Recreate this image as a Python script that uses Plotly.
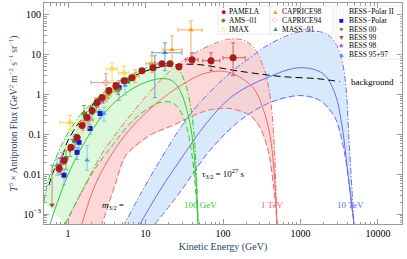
import plotly.graph_objects as go

# ---------------- data ----------------
# signal curves: T^3 x flux, m_3/2 = 100 GeV (green), 1 TeV (red), 10 TeV (blue)
g_up_E = [0.49, 0.536, 0.680, 0.915, 1.428, 2.587, 4.69, 8.49, 13.3, 19.5, 26.3, 33.3, 39.8, 44.9, 47.6]
g_up_F = [2.0e-3, 5.31e-3, 0.0224, 0.0794, 0.299, 0.944, 2.239, 3.981, 5.623, 5.957, 4.467, 1.679, 0.299, 0.0168, 5.62e-4]
g_mid_E = [0.586, 0.788, 1.061, 1.428, 1.922, 3.00, 4.69, 8.49, 15.4, 22.0, 27.9, 34.3, 39.8, 44.9, 47.6]
g_mid_F = [5.62e-4, 2.99e-3, 0.0126, 0.0398, 0.106, 0.355, 0.841, 1.778, 2.512, 2.239, 1.259, 0.398, 0.0944, 7.08e-3, 5.62e-4]
g_lo_E = [0.915, 1.428, 2.165, 3.92, 6.31, 9.86, 15.4, 22.0, 27.9, 34.3, 39.8, 44.9, 47.6]
g_lo_F = [5.62e-4, 2.99e-3, 0.0126, 0.0596, 0.188, 0.398, 0.631, 0.631, 0.398, 0.141, 0.0299, 2.99e-3, 5.62e-4]

r_up_E = [0.888, 1.428, 2.665, 4.69, 8.49, 15.4, 27.9, 62.2, 135, 223, 328, 404, 455, 483, 498]
r_up_F = [4.73e-4, 2.99e-3, 0.0299, 0.141, 0.596, 2.239, 6.310, 15.85, 25.1, 18.84, 5.309, 0.944, 0.0708, 3.98e-3, 5.62e-4]
r_mid_E = [1.471, 2.23, 3.59, 5.44, 8.49, 22.6, 62.2, 123, 244, 328, 404, 455, 498]
r_mid_F = [4.73e-4, 5.31e-3, 0.0299, 0.0944, 0.251, 1.259, 3.548, 3.548, 1.496, 0.447, 0.0944, 0.0126, 5.62e-4]
r_lo_E = [2.665, 4.04, 5.60, 11.4, 22.6, 62.2, 123, 223, 300, 381, 455, 498]
r_lo_F = [4.73e-4, 5.31e-3, 0.0299, 0.0944, 0.168, 0.398, 0.447, 0.299, 0.150, 0.0398, 3.98e-3, 5.62e-4]

b_up_E = [5.12, 8.49, 15.4, 27.9, 50.5, 113, 223, 404, 986, 2009, 2706, 3428, 3864, 4224, 4623, 4900]
b_up_F = [4.73e-4, 2.99e-3, 0.0224, 0.141, 0.631, 2.985, 8.414, 18.84, 37.6, 35.48, 22.39, 7.079, 1.496, 0.0708, 3.98e-3, 5.62e-4]
b_mid_E = [8.49, 15.4, 27.9, 62.2, 135, 370, 986, 1950, 2786, 3428, 3981, 4487, 4900]
b_mid_F = [5.62e-4, 3.98e-3, 0.0224, 0.200, 0.944, 2.661, 4.732, 3.350, 1.059, 0.168, 0.0168, 2.24e-3, 5.62e-4]
b_lo_E = [13.3, 27.9, 67.9, 166, 404, 986, 1786, 2786, 3640, 4355, 4900]
b_lo_F = [5.62e-4, 3.55e-3, 0.0398, 0.224, 0.631, 0.944, 0.708, 0.266, 0.0398, 3.98e-3, 5.62e-4]

bg_E = [0.569, 0.680, 0.765, 1.0, 1.516, 2.368, 4.16, 6.70, 12.5, 24.0, 50.5, 123, 223, 594, 1633, 3236]
bg_F = [5.31e-3, 0.0141, 0.0168, 0.0708, 0.251, 0.750, 1.778, 2.818, 4.467, 5.623, 5.623, 4.217, 3.548, 2.818, 2.512, 2.113]

# experimental data: energy, value, error up, error down
pam_E = [0.77, 0.89, 1.09, 1.31, 1.52, 1.76, 2.04, 2.37, 2.75, 3.38, 4.16, 5.28, 6.7, 9.0, 12.5, 16.3, 20.7, 27, 39.8, 70, 135]
pam_F = [0.014, 0.022, 0.047, 0.084, 0.168, 0.266, 0.40, 0.63, 0.84, 1.26, 1.68, 2.24, 2.66, 3.98, 4.73, 5.96, 5.96, 5.0, 7.5, 7.1, 8.4]
pam_Fu = [0.003, 0.004, 0.006, 0.01, 0.02, 0.03, 0.04, 0.06, 0.08, 0.12, 0.16, 0.2, 0.25, 0.35, 0.45, 0.6, 0.7, 0.8, 3.7, 4.1, 11.5]
pam_Fd = [0.003, 0.004, 0.006, 0.01, 0.02, 0.03, 0.04, 0.06, 0.08, 0.12, 0.16, 0.2, 0.25, 0.35, 0.45, 0.6, 0.7, 0.8, 1.5, 3.1, 5.4]
pam_Eu = [0, 0, 0, 0, 0, 0, 0, 0, 0, 0, 0, 0, 0, 0, 0, 0, 0, 0, 8, 21, 58]
pam_Ed = [0, 0, 0, 0, 0, 0, 0, 0, 0, 0, 0, 0, 0, 0, 0, 0, 0, 0, 7, 15, 35]

ams_E = [1.61, 2.30, 4.41]
ams_F = [0.335, 0.562, 1.41]
ams_Fu = [0.196, 0.25, 0.5]
ams_Fd = [0.147, 0.2, 0.4]

imax_E = [1.061, 3.70, 5.28]
imax_F = [0.200, 4.467, 3.548]
imax_Fu = [0.099, 1.84, 1.5]
imax_Fd = [0.074, 2.23, 1.3]
imax_Eu = [0.455, 0.6, 0.8]
imax_Ed = [0.273, 0.6, 0.8]

c98_E = [3.09, 7.32, 12.1, 22.0, 38.6]
c98_F = [0.944, 2.985, 5.96, 13.34, 42.17]
c98_Fu = [0.3, 1.2, 3.48, 16.5, 28.6]
c98_Fd = [0.3, 1.0, 2.41, 7.4, 33.8]
c98_Eu = [0.5, 1.0, 2.0, 7.7, 15.0]
c98_Ed = [0.5, 1.0, 2.0, 5.2, 12.3]

c94_E = [1.81, 3.09]
c94_F = [0.224, 1.995]
c94_Fu = [0.1, 1.355]
c94_Fd = [0.08, 1.287]
c94_Eu = [0.3, 1.46]
c94_Ed = [0.3, 1.11]

mass_E = [13.2, 17.8]
mass_F = [5.96, 11.2]
mass_Fu = [3.48, 8.75]
mass_Fd = [5.12, 7.22]
mass_Eu = [2.0, 11.7]
mass_Ed = [2.0, 5.7]

bp2_E = [0.743, 1.0, 1.428, 2.23, 3.48]
bp2_F = [0.0141, 0.0447, 0.126, 0.447, 1.122]

bp_E = [0.888, 1.306, 1.387, 1.922, 2.587, 4.55]
bp_F = [9.44e-3, 0.0355, 0.0631, 0.141, 0.335, 1.496]
bp_Fu = [0.004, 0.012, 0.02, 0.04, 0.08, 0.744]
bp_Fd = [0.004, 0.012, 0.02, 0.04, 0.08, 0.788]

b00_E = [0.942, 1.231, 2.04, 3.28, 5.95]
b00_F = [0.0251, 0.0708, 0.355, 1.059, 2.239]
b00_Fu = [0.015, 0.03, 0.176, 0.3, 0.4]
b00_Fd = [0.012, 0.025, 0.12, 0.25, 0.35]

b99_E = [0.622, 0.788, 1.061, 1.56, 2.44, 4.04]
b99_F = [1.68e-3, 0.0168, 0.0398, 0.168, 0.596, 1.41]
b99_Fu = [0.0151, 0.008, 0.015, 0.05, 0.15, 0.3]
b99_Fd = [0.0, 0.007, 0.012, 0.04, 0.12, 0.25]

b98_E = [0.836, 1.195, 1.81, 2.75, 4.41]
b98_F = [0.0251, 0.0708, 0.251, 0.708, 1.413]
b98_Fu = [0.01, 0.02, 0.06, 0.15, 0.3]
b98_Fd = [0.008, 0.018, 0.05, 0.12, 0.25]

b95_E = [0.721, 1.76, 2.91, 5.44]
b95_F = [0.0168, 0.0224, 0.335, 1.679]
b95_Fu = [0.0084, 0.0307, 0.15, 0.8]
b95_Fd = [0.0074, 0.0098, 0.12, 0.7]

xtick_vals = [1, 10, 100, 1000, 10000]
xtick_text = ["1", "10", "100", "1000", "10000"]
ytick_vals = [1e-3, 0.01, 0.1, 1, 10, 100]
ytick_text = ["10<sup>−3</sup>", "0.01", "0.1", "1", "10", "100"]

# ---------------- figure ----------------
SERIF = "Liberation Serif"
fig = go.Figure()

bands = [
    (b_up_E, b_up_F, b_mid_E, b_mid_F, b_lo_E, b_lo_F, "#6b6bf2", "rgba(210,229,251,0.85)"),
    (r_up_E, r_up_F, r_mid_E, r_mid_F, r_lo_E, r_lo_F, "#f06a6a", "rgba(252,203,203,0.75)"),
    (g_up_E, g_up_F, g_mid_E, g_mid_F, g_lo_E, g_lo_F, "#36c636", "rgba(210,247,208,0.75)"),
]
for uE, uF, mE, mF, lE, lF, lc, fc in bands:
    fig.add_trace(go.Scatter(x=uE + lE[::-1], y=uF + lF[::-1], fill="toself", fillcolor=fc,
                             line=dict(width=0), mode="lines", hoverinfo="skip", showlegend=False))
for uE, uF, mE, mF, lE, lF, lc, fc in bands:
    fig.add_trace(go.Scatter(x=uE, y=uF, mode="lines", line=dict(color=lc, width=1, dash="6px,2px,1.5px,2px"),
                             line_shape="spline", showlegend=False))
    fig.add_trace(go.Scatter(x=lE, y=lF, mode="lines", line=dict(color=lc, width=1, dash="6px,3px"),
                             line_shape="spline", showlegend=False))
    fig.add_trace(go.Scatter(x=mE, y=mF, mode="lines", line=dict(color=lc, width=1),
                             line_shape="spline", showlegend=False))

fig.add_trace(go.Scatter(x=bg_E, y=bg_F, mode="lines", line=dict(color="black", width=1, dash="7px,4px"),
                         line_shape="spline", showlegend=False))


def data_trace(E, F, color, ecolor, symbol, size, Fu=None, Fd=None, Eu=None, Ed=None, lw=0):
    kw = {}
    if Fu is not None:
        kw["error_y"] = dict(type="data", array=Fu, arrayminus=Fd, color=ecolor, thickness=1, width=2)
    if Eu is not None:
        kw["error_x"] = dict(type="data", array=Eu, arrayminus=Ed, color=ecolor, thickness=1, width=2)
    fig.add_trace(go.Scatter(x=E, y=F, mode="markers", showlegend=False,
                             marker=dict(color=color, symbol=symbol, size=size,
                                         line=dict(color=color, width=lw)), **kw))


data_trace(bp2_E, bp2_F, "#e8dc9a", "#efe6b5", "square-open", 5, lw=1)
data_trace(b95_E, b95_F, "#3b9cf0", "#8cc4f2", "triangle-up", 5, b95_Fu, b95_Fd)
data_trace(b98_E, b98_F, "#a052d4", "#c79ae0", "star", 6, b98_Fu, b98_Fd)
data_trace(b99_E, b99_F, "#9c4a2a", "#c08a70", "triangle-down", 5, b99_Fu, b99_Fd)
data_trace(b00_E, b00_F, "#3f8f2f", "#6fb05f", "circle", 5, b00_Fu, b00_Fd)
data_trace(bp_E, bp_F, "#1818c8", "#7ab0e0", "square", 5, bp_Fu, bp_Fd)
data_trace(mass_E, mass_F, "#4a7fb0", "#6f9cc6", "triangle-up", 5, mass_Fu, mass_Fd, mass_Eu, mass_Ed)
data_trace(c94_E, c94_F, "#e8a070", "#dfa27a", "diamond-open", 5, c94_Fu, c94_Fd, c94_Eu, c94_Ed, lw=1)
data_trace(c98_E, c98_F, "#f29a22", "#f5b050", "triangle-up", 5, c98_Fu, c98_Fd, c98_Eu, c98_Ed)
data_trace(imax_E, imax_F, "#f2d23a", "#f5dc5a", "triangle-up-open", 5, imax_Fu, imax_Fd, imax_Eu, imax_Ed, lw=1)
data_trace(ams_E, ams_F, "#5c8c2c", "#7aa84a", "diamond", 5, ams_Fu, ams_Fd)
data_trace(pam_E, pam_F, "#a81c1c", "#c86060", "circle", 7, pam_Fu, pam_Fd, pam_Eu, pam_Ed)


def px(xp):
    return (xp - 44) / 358.0


def py(yp):
    return 1 - (yp - 3) / 221.0


ann = []
def text(xp, yp, s, color="black", size=9, xanchor="center"):
    ann.append(dict(x=px(xp), y=py(yp), xref="paper", yref="paper", text=s, showarrow=False,
                    xanchor=xanchor, yanchor="middle", font=dict(family=SERIF, size=size, color=color)))

text(113, 205, "<i>m</i><sub>3/2</sub> =")
text(223, 173, "<i>τ</i><sub>3/2</sub> = 10<sup>27</sup> s")
text(200, 205, "100 GeV", "#36c636")
text(272, 205, "1 TeV", "#f06a6a")
text(350, 205, "10 TeV", "#6b6bf2")
text(372, 82, "background")

legend_rows = [12, 20.5, 29, 37.5, 46, 54.5]
legend = [
    (223, 227, 0, "●", "#a81c1c", "PAMELA", 9),
    (223, 227, 1, "◆", "#5c8c2c", "AMS−01", 6),
    (223, 227, 2, "△", "#f2d23a", "IMAX", 7),
    (275, 280, 0, "▲", "#f29a22", "CAPRICE98", 7),
    (275, 280, 1, "◇", "#e8a070", "CAPRICE94", 7),
    (275, 280, 2, "▲", "#4a7fb0", "MASS−91", 7),
    (341, 347, 0, "□", "#e8dc9a", "BESS−Polar II", 8),
    (341, 347, 1, "■", "#1818c8", "BESS−Polar", 8),
    (341, 347, 2, "●", "#3f8f2f", "BESS 00", 7),
    (341, 347, 3, "▼", "#9c4a2a", "BESS 99", 7),
    (341, 347, 4, "★", "#a052d4", "BESS 98", 7),
    (341, 347, 5, "▲", "#3b9cf0", "BESS 95+97", 7),
]
for mx, tx, row, glyph, col, label, gs in legend:
    text(mx, legend_rows[row], glyph, col, gs)
    text(tx, legend_rows[row], label, "black", 7.5, "left")

shapes = []
for x0, x1, y0, y1 in [(218, 270, 6, 34), (270, 333, 6, 34), (336, 401, 6, 59)]:
    shapes.append(dict(type="rect", xref="paper", yref="paper", x0=px(x0), x1=px(x1), y0=py(y1), y1=py(y0),
                       line=dict(color="#e4e4e4", width=0.8)))

minor_x = [m * 10 ** k for k in range(-1, 5) for m in range(2, 10)]
minor_y = [m * 10 ** k for k in range(-4, 3) for m in range(2, 10)]

axis_common = dict(type="log", showgrid=False, zeroline=False, showline=True, linecolor="#9a9a9a", linewidth=1,
                   mirror="allticks", ticks="inside", ticklen=5, tickcolor="#9a9a9a", automargin=False,
                   tickfont=dict(family=SERIF, size=10, color="black"))
fig.update_xaxes(**axis_common, range=[-0.31, 4.31], tickvals=xtick_vals, ticktext=xtick_text,
                 minor=dict(ticks="inside", ticklen=2.5, tickcolor="#9a9a9a", tickvals=minor_x),
                 title=dict(text="Kinetic Energy (GeV)", font=dict(family=SERIF, size=10), standoff=4))
fig.update_yaxes(**axis_common, range=[-3.25, 2.3], tickvals=ytick_vals, ticktext=ytick_text,
                 minor=dict(ticks="inside", ticklen=2.5, tickcolor="#9a9a9a", tickvals=minor_y),
                 title=dict(text="<i>T</i><sup>3</sup> × Antiproton Flux (GeV<sup>2</sup> m<sup>−2</sup> s<sup>−1</sup> sr<sup>−1</sup>)",
                            font=dict(family=SERIF, size=9.5), standoff=4))

fig.update_layout(width=407, height=259, margin=dict(l=44, r=5, t=3, b=35),
                  plot_bgcolor="white", paper_bgcolor="white", showlegend=False,
                  annotations=ann, shapes=shapes)

fig.write_html("out.html", config={"displayModeBar": False, "staticPlot": True},
               post_script="document.body.style.margin='0px';")
